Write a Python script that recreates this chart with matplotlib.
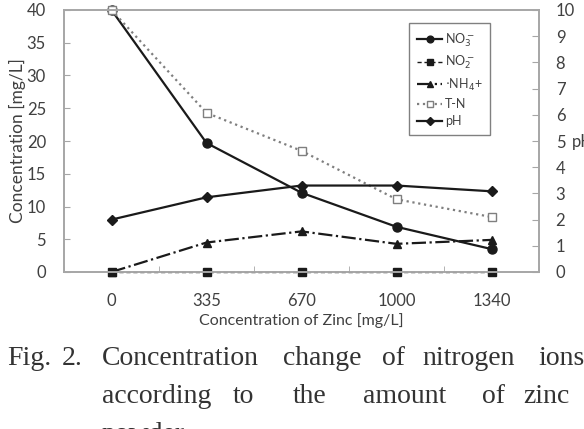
import numpy as np
import matplotlib.pyplot as plt
from matplotlib.ticker import MultipleLocator, FixedLocator

# data
zinc = ['0', '335', '670', '1000', '1340']
no3 = [40.0, 19.7, 12.1, 6.9, 3.5]
no2 = [0.0, 0.0, 0.0, 0.0, 0.0]
nh4 = [0.0, 4.5, 6.2, 4.3, 4.9]
tn = [40.0, 24.3, 18.5, 11.1, 8.4]
ph = [2.0, 2.85, 3.3, 3.3, 3.08]

plt.rcParams['font.family'] = ['Lato', 'DejaVu Sans']
txt = '#404040'
spine = '#a6a6a6'
ink = '#1a1a1a'

fig = plt.figure(figsize=(5.84, 4.29), dpi=100)
ax = fig.add_axes([64/584, 1 - 272/429, 475/584, 262/429])
ax2 = ax.twinx()

x = np.arange(len(zinc))

l1, = ax.plot(x, no3, '-', color=ink, lw=1.6, marker='o', ms=6.5, clip_on=False, label='NO$_3^-$')
l2, = ax.plot(x, no2, '--', color=ink, lw=1.0, marker='s', ms=6, dashes=(3, 2), clip_on=False, label='NO$_2^-$')
l3, = ax.plot(x, nh4, '-.', color=ink, lw=1.6, marker='^', ms=6, clip_on=False, label='$\\cdot$NH$_4$+')
l4, = ax.plot(x, tn, ':', color='#7f7f7f', lw=1.6, marker='s', ms=5.5, mfc='white', mec='#7f7f7f', clip_on=False, label='T-N')
l5, = ax2.plot(x, ph, '-', color=ink, lw=1.6, marker='D', ms=5, clip_on=False, label='pH')

ax.set_xlim(-0.5, 4.5)
ax.set_ylim(0, 40)
ax2.set_ylim(0, 10)

ax.set_xticks(x)
ax.set_xticklabels(zinc)
ax.xaxis.set_minor_locator(FixedLocator(np.arange(-0.5, 5, 1)))
ax.tick_params(axis='x', which='major', length=0, pad=15, labelsize=12, labelcolor=txt)
ax.tick_params(axis='x', which='minor', direction='in', length=4, color=spine)

ax.yaxis.set_major_locator(MultipleLocator(5))
ax.tick_params(axis='y', direction='in', length=4, color=spine, labelsize=12, labelcolor=txt, pad=13)
ax2.yaxis.set_major_locator(MultipleLocator(1))
ax2.tick_params(axis='y', direction='in', length=5, color=spine, labelsize=12, labelcolor=txt, pad=12)

for a in (ax, ax2):
    for s in a.spines.values():
        s.set_color(spine)
        s.set_linewidth(1.2)

ax.set_xlabel('Concentration of Zinc [mg/L]', fontsize=11.5, color=txt, labelpad=3)
ax.set_ylabel('Concentration [mg/L]', fontsize=12.5, color=txt, va='center')
ax.yaxis.set_label_coords((17 - 64)/475, 0.5)
fig.text(572/584, 1 - 142/429, 'pH', fontsize=12, color=txt, va='center', ha='left')

leg = ax.legend(handles=[l1, l2, l3, l4, l5], loc='upper left',
                bbox_to_anchor=((409 - 64)/475, 1 - 13/262), fontsize=9,
                handlelength=2.0, handletextpad=0.2, labelspacing=0.42,
                borderpad=0.65, borderaxespad=0, fancybox=False, framealpha=1,
                markerscale=0.75)
leg.get_frame().set_edgecolor('#808080')
leg.get_frame().set_linewidth(1.0)
for t in leg.get_texts():
    t.set_color(txt)

# caption, justified by word positions
cap_font = dict(family='Liberation Serif', fontsize=20, color='#333333')
line1 = [('Fig.', 7), ('2.', 62), ('Concentration', 102), ('change', 283),
         ('of', 382), ('nitrogen', 422), ('ions', 538)]
line2 = [('according', 102), ('to', 233), ('the', 293), ('amount', 363),
         ('of', 482), ('zinc', 523)]
line3 = [('powder', 102)]
for words, base in ((line1, 365), (line2, 403), (line3, 441)):
    for w, px in words:
        fig.text(px/584, 1 - base/429, w, va='baseline', ha='left', **cap_font)

fig.savefig('out.png', dpi=100)
